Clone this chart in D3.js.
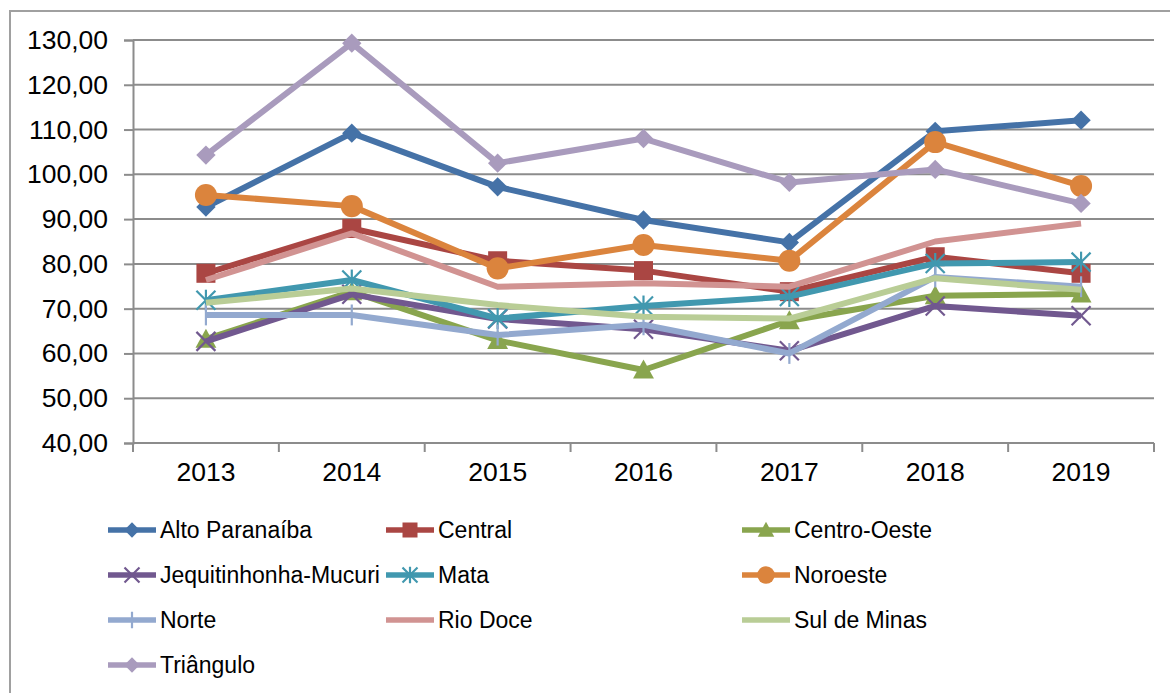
<!DOCTYPE html>
<html>
<head>
<meta charset="utf-8">
<script src="https://cdn.jsdelivr.net/npm/d3@7"></script>
<style>
  body { margin: 0; background: #fff; }
  svg { display: block; font-family: "Liberation Sans", Arial, sans-serif; }
</style>
</head>
<body>
<svg id="chart" width="1170" height="693"></svg>
<script>
var years = ['2013', '2014', '2015', '2016', '2017', '2018', '2019'];
var yTicks = [40, 50, 60, 70, 80, 90, 100, 110, 120, 130];

var altoParanaiba = [92.7, 109.2, 97.2, 89.8, 84.8, 109.6, 112.1];
var central = [77.9, 87.9, 80.7, 78.5, 73.8, 81.6, 77.9];
var centroOeste = [63.2, 73.8, 62.9, 56.3, 67.3, 72.9, 73.3];
var jequitinhonha = [62.7, 73.2, 67.7, 65.4, 60.6, 70.6, 68.4];
var mata = [71.9, 76.4, 67.8, 70.6, 72.7, 80.1, 80.4];
var noroeste = [95.4, 92.9, 79.0, 84.2, 80.7, 107.2, 97.4];
var norte = [68.6, 68.6, 64.1, 66.4, 60.0, 77.1, 74.9];
var rioDoce = [76.4, 86.8, 74.9, 75.7, 74.9, 85.0, 89.0];
var sulDeMinas = [71.3, 74.5, 70.8, 68.2, 67.8, 76.8, 74.2];
var triangulo = [104.3, 129.3, 102.5, 108.0, 98.2, 101.1, 93.5];

var seriesNames = ['Alto Paranaíba', 'Central', 'Centro-Oeste', 'Jequitinhonha-Mucuri', 'Mata',
                   'Noroeste', 'Norte', 'Rio Doce', 'Sul de Minas', 'Triângulo'];
var seriesValues = [altoParanaiba, central, centroOeste, jequitinhonha, mata,
                    noroeste, norte, rioDoce, sulDeMinas, triangulo];
var COLORS = ['#4572A7', '#AA4643', '#89A54E', '#71588F', '#4198AF',
              '#DB843D', '#93A9CF', '#D19392', '#B9CD96', '#A99BBD'];
var MARKERS = ['diamond', 'square', 'triangle', 'x', 'star', 'circle', 'plus', null, null, 'diamond'];

(function () {
    var svg = d3.select('#chart');
    var left = 133, right = 1154, top = 40, bottom = 443;
    var GRID = '#8c8c8c';

    // chart frame
    svg.append('path').attr('d', 'M10,693V11H1170')
        .attr('fill', 'none').attr('stroke', '#a0a0a0').attr('stroke-width', 2);

    var x = d3.scaleBand().domain(years).range([left, right]);
    var y = d3.scaleLinear().domain([40, 130]).range([bottom, top]);
    var locale = d3.formatLocale({decimal: ',', thousands: '.', grouping: [3], currency: ['R$', '']});
    var fmt = locale.format('.2f');

    // gridlines
    svg.append('g').selectAll('line').data(yTicks.slice(1)).join('line')
        .attr('x1', left).attr('x2', right)
        .attr('y1', function (d) { return y(d); }).attr('y2', function (d) { return y(d); })
        .attr('stroke', GRID).attr('stroke-width', 2);

    var yAxis = svg.append('g').attr('transform', 'translate(' + left + ',0)')
        .call(d3.axisLeft(y).tickValues(yTicks).tickFormat(fmt).tickSize(9).tickPadding(16));
    yAxis.select('.domain').attr('stroke', GRID).attr('stroke-width', 2);
    yAxis.selectAll('.tick line').attr('stroke', GRID).attr('stroke-width', 2);
    yAxis.selectAll('text').attr('font-size', 26.5).attr('fill', '#000')
        .attr('font-family', '"Liberation Sans", Arial, sans-serif');

    var xAxis = svg.append('g').attr('transform', 'translate(0,' + bottom + ')')
        .call(d3.axisBottom(x).tickSize(0).tickPadding(19));
    xAxis.select('.domain').remove();
    xAxis.selectAll('text').attr('font-size', 26.5).attr('fill', '#000')
        .attr('font-family', '"Liberation Sans", Arial, sans-serif');
    svg.append('line').attr('x1', left).attr('x2', right).attr('y1', bottom).attr('y2', bottom)
        .attr('stroke', GRID).attr('stroke-width', 2);
    // category boundary ticks
    var bounds = years.map(function (d) { return x(d); }).concat([x(years[years.length - 1]) + x.bandwidth()]);
    svg.append('g').selectAll('line').data(bounds).join('line')
        .attr('x1', function (d) { return d; }).attr('x2', function (d) { return d; })
        .attr('y1', bottom).attr('y2', bottom + 9)
        .attr('stroke', GRID).attr('stroke-width', 2);

    function drawMarker(g, type, color, s) {
        if (!type) return;
        if (type === 'diamond') {
            g.append('rect').attr('x', -s * 0.36).attr('y', -s * 0.36)
                .attr('width', s * 0.72).attr('height', s * 0.72)
                .attr('transform', 'rotate(45)').attr('fill', color);
        } else if (type === 'square') {
            g.append('rect').attr('x', -s / 2).attr('y', -s / 2)
                .attr('width', s).attr('height', s).attr('fill', color);
        } else if (type === 'triangle') {
            g.append('path').attr('d', d3.line()([[0, -s * 0.55], [s * 0.55, s * 0.45], [-s * 0.55, s * 0.45]]) + 'Z')
                .attr('fill', color);
        } else if (type === 'circle') {
            g.append('circle').attr('r', s * 0.58).attr('fill', color);
        } else if (type === 'x' || type === 'star' || type === 'plus') {
            var h = s / 2, parts = [];
            if (type !== 'plus') parts.push([[-h, -h], [h, h]], [[-h, h], [h, -h]]);
            if (type !== 'x') parts.push([[0, -h * 1.1], [0, h * 1.1]]);
            parts.forEach(function (p) {
                g.append('path').attr('d', d3.line()(p)).attr('stroke', color)
                    .attr('stroke-width', 2.2).attr('fill', 'none');
            });
        }
    }

    var line = d3.line()
        .x(function (d, i) { return x(years[i]) + x.bandwidth() / 2; })
        .y(function (d) { return y(d); });

    seriesValues.forEach(function (vals, si) {
        var g = svg.append('g');
        g.append('path').datum(vals).attr('d', line)
            .attr('fill', 'none').attr('stroke', COLORS[si]).attr('stroke-width', 6)
            .attr('stroke-linejoin', 'round');
        vals.forEach(function (v, i) {
            var m = g.append('g').attr('transform', 'translate(' + (x(years[i]) + x.bandwidth() / 2) + ',' + y(v) + ')');
            drawMarker(m, MARKERS[si], COLORS[si], 19);
        });
    });

    // legend
    var colX = [108, 386, 742], rowY = [530, 575, 620, 665];
    seriesNames.forEach(function (name, i) {
        var lg = svg.append('g')
            .attr('transform', 'translate(' + colX[i % 3] + ',' + rowY[Math.floor(i / 3)] + ')');
        lg.append('line').attr('x1', 0).attr('x2', 48).attr('y1', 0).attr('y2', 0)
            .attr('stroke', COLORS[i]).attr('stroke-width', 5.5);
        var m = lg.append('g').attr('transform', 'translate(24,0)');
        drawMarker(m, MARKERS[i], COLORS[i], 15);
        lg.append('text').attr('x', 52).attr('y', 0).attr('dy', '0.36em')
            .attr('font-size', 23).attr('fill', '#000').text(name);
    });
}());
</script>
</body>
</html>
